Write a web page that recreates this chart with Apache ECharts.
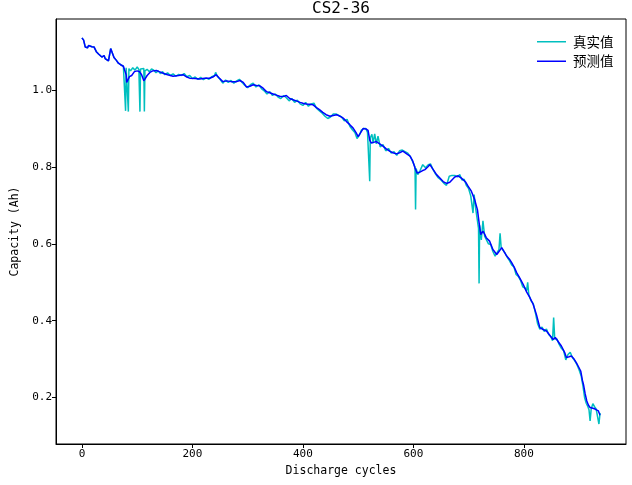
<!DOCTYPE html>
<html>
<head>
<meta charset="utf-8">
<script src="https://cdn.jsdelivr.net/npm/echarts@6/dist/echarts.min.js"></script>
<style>html,body{margin:0;padding:0;background:#fff}#c{width:632px;height:485px}</style>
</head>
<body>
<div id="c"></div>
<script>
const titleText = 'CS2-36';
const seriesNames = ['真实值', '预测值'];
const xTicks = [0, 200, 400, 600, 800];
const yTicks = [0.2, 0.4, 0.6, 0.8, 1.0];

const realCycles = [0,3,6,10,12,18,22,26,30,33,36,40,42,45,48,50,52,54,58,62,66,70,75,
78,79,80,82,84,85,88,92,96,100,103,105,106,109,112,113,114,118,122,126,130,134,138,142,146,150,155,160,165,170,175,180,185,190,195,200,205,210,215,220,225,230,235,240,242,245,250,255,260,265,270,275,280,285,290,295,300,305,310,315,320,325,330,335,340,345,350,355,360,365,370,375,380,385,390,395,400,405,410,415,420,425,430,435,440,445,450,455,460,465,470,475,480,485,490,494,498,502,506,510,514,517,519,521,522,525,527,530,533,536,540,545,550,555,560,565,570,575,580,585,590,595,600,603,604,605,608,612,617,622,627,631,635,640,645,650,655,660,665,670,675,680,684,688,692,696,700,704,708,710,713,716,718,719,720,723,726,729,732,736,740,744,748,752,755,757,759,762,766,770,774,778,782,786,790,794,798,802,805,807,809,813,817,821,825,829,833,837,841,845,849,852,854,856,860,864,868,872,876,880,884,888,892,896,900,904,907,910,913,916,918,920,922,925,928,931,934,936,938];
const realCapacity = [1.136,1.130,1.112,1.110,1.116,1.113,1.112,1.100,1.094,1.097,1.086,1.090,1.082,1.085,1.076,1.080,1.108,1.104,1.085,1.078,1.070,1.066,1.062,
1.060,0.946,1.058,1.060,0.944,1.056,1.050,1.058,1.052,1.060,1.054,0.944,1.055,1.050,1.056,0.944,1.050,1.054,1.048,1.055,1.052,1.045,1.050,1.043,1.048,1.040,1.045,1.038,1.042,1.036,1.041,1.038,1.043,1.035,1.038,1.030,1.034,1.028,1.033,1.027,1.032,1.028,1.035,1.038,1.046,1.036,1.028,1.018,1.026,1.020,1.025,1.018,1.024,1.028,1.020,1.012,1.006,1.014,1.018,1.008,1.014,1.004,0.998,0.990,0.996,0.986,0.990,0.982,0.978,0.986,0.980,0.972,0.978,0.968,0.974,0.964,0.960,0.968,0.958,0.964,0.966,0.952,0.946,0.940,0.932,0.926,0.930,0.938,0.938,0.934,0.930,0.920,0.924,0.906,0.896,0.890,0.874,0.882,0.896,0.900,0.900,0.890,0.885,0.763,0.876,0.885,0.862,0.886,0.860,0.880,0.852,0.858,0.842,0.848,0.836,0.840,0.830,0.842,0.844,0.840,0.836,0.826,0.810,0.800,0.689,0.796,0.780,0.790,0.806,0.798,0.806,0.808,0.795,0.782,0.772,0.766,0.758,0.752,0.776,0.778,0.778,0.774,0.780,0.766,0.768,0.752,0.744,0.724,0.680,0.728,0.690,0.660,0.640,0.497,0.648,0.610,0.660,0.620,0.625,0.600,0.598,0.580,0.568,0.578,0.585,0.627,0.590,0.585,0.576,0.565,0.556,0.545,0.540,0.520,0.515,0.505,0.488,0.485,0.478,0.500,0.468,0.452,0.445,0.420,0.392,0.378,0.383,0.372,0.378,0.364,0.358,0.348,0.408,0.352,0.352,0.338,0.328,0.322,0.298,0.312,0.318,0.304,0.296,0.286,0.272,0.255,0.230,0.200,0.185,0.176,0.168,0.139,0.170,0.184,0.176,0.170,0.172,0.131,0.160];

const predCycles = [0,3,6,10,12,18,22,26,30,33,36,40,42,45,48,50,52,54,58,62,66,70,75,78,80,81,83,86,90,95,100,104,108,112,114,118,123,128,135,140,147,155,165,175,183,190,195,205,213,222,231,237,243,248,255,262,270,280,286,292,298,304,310,316,322,328,334,340,346,352,358,364,370,376,382,388,395,400,406,412,418,424,430,436,442,449,455,461,467,473,479,485,491,496,500,504,509,514,518,521,524,528,533,539,545,551,557,563,569,575,581,588,594,599,603,607,611,616,621,626,630,636,642,648,654,660,666,669,675,681,687,690,695,699,705,711,716,719,722,726,729,732,738,744,751,755,760,764,769,774,778,783,787,793,799,805,811,817,823,829,835,841,847,853,857,860,865,868,874,877,882,886,891,895,899,903,906,908,911,914,917,920,925,929,932,935,938];
const predCapacity = [1.136,1.130,1.112,1.110,1.116,1.113,1.112,1.100,1.094,1.097,1.086,1.090,1.082,1.085,1.076,1.080,1.108,1.104,1.085,1.078,1.070,1.066,1.062,1.058,1.040,1.020,1.025,1.035,1.038,1.048,1.050,1.048,1.040,1.024,1.025,1.038,1.046,1.050,1.051,1.048,1.044,1.040,1.036,1.038,1.040,1.034,1.031,1.030,1.029,1.031,1.031,1.034,1.040,1.032,1.022,1.024,1.022,1.022,1.025,1.020,1.008,1.010,1.014,1.012,1.011,1.005,0.996,0.993,0.990,0.987,0.984,0.983,0.986,0.978,0.975,0.972,0.968,0.966,0.964,0.963,0.962,0.955,0.949,0.942,0.936,0.932,0.934,0.936,0.932,0.927,0.918,0.910,0.901,0.890,0.879,0.888,0.900,0.899,0.895,0.870,0.862,0.864,0.866,0.860,0.854,0.847,0.841,0.837,0.834,0.837,0.841,0.834,0.828,0.815,0.797,0.784,0.786,0.790,0.793,0.800,0.806,0.793,0.780,0.771,0.762,0.757,0.760,0.763,0.774,0.777,0.771,0.769,0.760,0.750,0.737,0.715,0.689,0.655,0.624,0.633,0.625,0.616,0.607,0.585,0.572,0.580,0.590,0.580,0.568,0.560,0.551,0.538,0.525,0.510,0.494,0.475,0.460,0.442,0.415,0.382,0.377,0.373,0.362,0.351,0.356,0.358,0.340,0.334,0.317,0.304,0.306,0.308,0.300,0.291,0.280,0.269,0.245,0.234,0.210,0.191,0.180,0.174,0.172,0.170,0.168,0.165,0.154];

const zip = (xs, ys) => xs.map((x, i) => [x, ys[i]]);
const FONT = 'DejaVu Sans Mono';
const LEGEND_ICON = 'path://M0,0 L58,0 L58,3 L0,3 Z';
const chart = echarts.init(document.getElementById('c'), null, {renderer: 'canvas'});
chart.setOption({
  animation: false,
  backgroundColor: '#fff',
  title: {
    text: titleText, left: 341, top: 1, textAlign: 'center', padding: 0,
    textStyle: {fontFamily: FONT, fontSize: 16, fontWeight: 'normal', color: '#000'}
  },
  legend: {
    orient: 'vertical', left: 532, top: 30, itemWidth: 29, itemHeight: 14, itemGap: 6,
    align: 'left',
    textStyle: {fontFamily: 'Noto Sans CJK SC', fontSize: 13.5, color: '#000', padding: [0, 0, 0, 2]},
    data: seriesNames.map(n => ({name: n, icon: LEGEND_ICON}))
  },
  grid: {left: 56, right: 6, top: 19, bottom: 41, show: true, borderColor: '#000', borderWidth: 1},
  xAxis: {
    type: 'value', min: -47, max: 985,
    name: 'Discharge cycles', nameLocation: 'middle', nameGap: 19,
    nameTextStyle: {fontFamily: FONT, fontSize: 11.5, color: '#000'},
    axisLine: {show: true, onZero: false, lineStyle: {color: '#000', width: 1}},
    axisTick: {show: true, length: 4, lineStyle: {color: '#000'}, customValues: xTicks},
    axisLabel: {fontFamily: FONT, fontSize: 11, color: '#000', margin: 5, customValues: xTicks},
    splitLine: {show: false}
  },
  yAxis: {
    type: 'value', min: 0.079, max: 1.185,
    name: 'Capacity (Ah)', nameLocation: 'middle', nameGap: 32, nameRotate: 90,
    nameTextStyle: {fontFamily: FONT, fontSize: 11.5, color: '#000'},
    axisLine: {show: true, onZero: false, lineStyle: {color: '#000', width: 1}},
    axisTick: {show: true, length: 4, lineStyle: {color: '#000'}, customValues: yTicks},
    axisLabel: {fontFamily: FONT, fontSize: 11, color: '#000', margin: 4, customValues: yTicks,
      formatter: v => v.toFixed(1)},
    splitLine: {show: false}
  },
  series: [
    {name: seriesNames[0], type: 'line', data: zip(realCycles, realCapacity), symbol: 'none',
     lineStyle: {color: '#00BFBF', width: 1.5}, itemStyle: {color: '#00BFBF'}},
    {name: seriesNames[1], type: 'line', data: zip(predCycles, predCapacity), symbol: 'none',
     lineStyle: {color: '#0000FF', width: 1.5}, itemStyle: {color: '#0000FF'}}
  ]
});
</script>
</body>
</html>
